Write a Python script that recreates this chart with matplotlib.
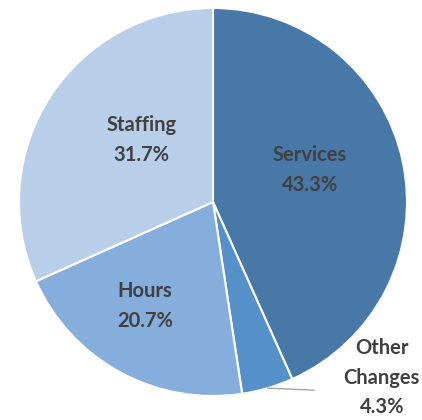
import matplotlib.pyplot as plt
import numpy as np

# slices, clockwise from 12 o'clock
names = ['Services', 'Other\nChanges', 'Hours', 'Staffing']
shares = [43.3, 4.3, 20.7, 31.7]
colors = ['#4878a8', '#5591c8', '#86aedc', '#b9cfe9']

# label anchor (x, y) in axes data units, pie radius = 1
label_pos = [(0.50, 0.165), (0.87, -0.905), (-0.35, -0.535), (-0.37, 0.32)]

plt.rcParams['font.family'] = ['Lato', 'DejaVu Sans']

fig = plt.figure(figsize=(4.22, 4.20), dpi=100)
ax = fig.add_axes([0, 0, 1, 1])

wedges, _ = ax.pie(shares, colors=colors, startangle=90, counterclock=False,
                   radius=1, wedgeprops=dict(edgecolor='white', linewidth=1.5))

for i in range(len(names)):
    txt = names[i] + '\n' + '%.1f%%' % shares[i]
    ax.text(label_pos[i][0], label_pos[i][1], txt, ha='center', va='center',
            fontsize=14.5, fontweight='bold', color='#404040', linespacing=1.6)

# leader line for the small slice
w = wedges[1]
ang = np.deg2rad((w.theta1 + w.theta2) / 2)
ax.plot([np.cos(ang), 0.52], [np.sin(ang), -0.97], color='#a6a6a6', lw=1)

ax.set_xlim(-213 / 194, (422 - 213) / 194)
ax.set_ylim(-(420 - 202) / 194, 202 / 194)
ax.set_aspect('auto')
ax.axis('off')

fig.savefig('out.png', dpi=100)
